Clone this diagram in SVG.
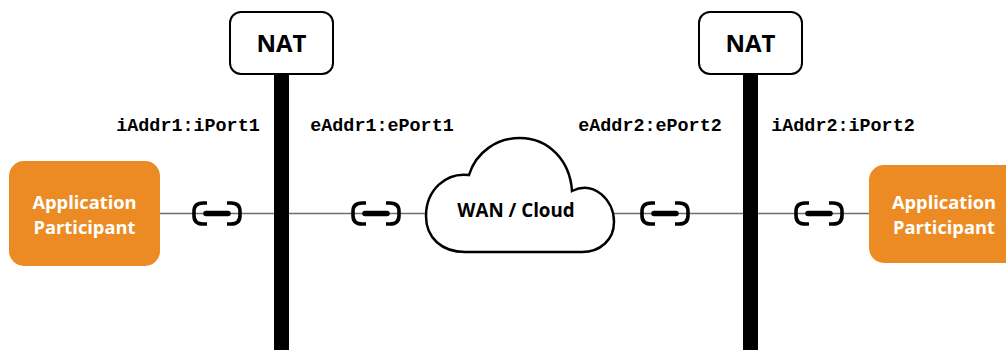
<svg xmlns="http://www.w3.org/2000/svg" width="1006" height="350" viewBox="0 0 1006 350">
<defs>
<g id="link"><path d="M-10,-10.500 H-14 Q-23,-10.500 -23,-2 V2 Q-23,10.500 -14,10.500 H-10 M10,-10.500 H14 Q23,-10.500 23,-2 V2 Q23,10.500 14,10.500 H10" fill="none" stroke="#000" stroke-width="3.600"/><path d="M-11,0 H11" fill="none" stroke="#000" stroke-width="5.500" stroke-linecap="round"/></g>
</defs>
<style>
.wire{stroke:#6e6e6e;stroke-width:1.500;fill:none}
.bar{fill:#000}
.nat{fill:#fff;stroke:#000;stroke-width:2}
.app{fill:#ec8b24}
.t{font-family:"Open Sans","Noto Sans",sans-serif;font-weight:700;text-anchor:middle}
.appt{font-size:18.300px;fill:#fff}
.natt{font-size:24px;fill:#000}
.addr{font-family:"Liberation Mono",monospace;font-weight:700;font-size:18.400px;fill:#000;text-anchor:middle}
</style>
<rect width="1006" height="350" fill="#fff"/>
<g id="connectors">
<path class="wire" d="M160,213.500 H870"/>
<rect class="bar" x="274" y="70" width="15" height="280"/>
<rect class="bar" x="743" y="70" width="15" height="280"/>
<use href="#link" x="217" y="213.500"/>
<use href="#link" x="376" y="213.500"/>
<use href="#link" x="665" y="213.500"/>
<use href="#link" x="819" y="213.500"/>
</g>
<g id="nat1"><rect class="nat" x="230" y="12" width="103" height="62" rx="11"/><text class="t natt" x="281.500" y="52">NAT</text></g>
<g id="nat2"><rect class="nat" x="699" y="12" width="103" height="62" rx="11"/><text class="t natt" x="750.500" y="52">NAT</text></g>
<g id="app1"><rect class="app" x="9" y="161" width="151" height="105" rx="15"/><text class="t appt" x="84.500" y="209">Application</text><text class="t appt" x="84.500" y="234">Participant</text></g>
<g id="app2"><rect class="app" x="869" y="165" width="150" height="98" rx="15"/><text class="t appt" x="944" y="209">Application</text><text class="t appt" x="944" y="234">Participant</text></g>
<g id="cloud"><path d="M469,175 C476,152 497,138 520,138 C548,138 570,160 572,191 C594,180 614,200 614,222 C614,240 600,252 582,252 H465 C442,252 426,238 426,216 C426,190 446,172 469,175 Z" fill="#fff" stroke="#000" stroke-width="2.500"/><text class="t" x="516" y="217" font-size="18.800px" fill="#000">WAN / Cloud</text></g>
<g id="labels">
<text class="addr" x="188" y="131">iAddr1:iPort1</text>
<text class="addr" x="382" y="131">eAddr1:ePort1</text>
<text class="addr" x="650" y="131">eAddr2:ePort2</text>
<text class="addr" x="843" y="131">iAddr2:iPort2</text>
</g>
</svg>
